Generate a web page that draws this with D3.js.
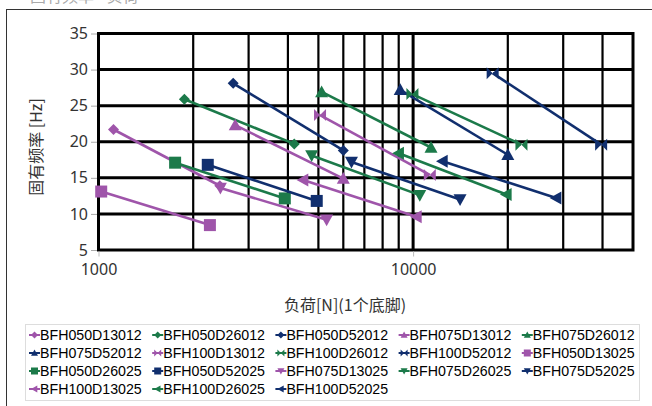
<!DOCTYPE html>
<html>
<head>
<meta charset="utf-8">
<script src="https://cdn.jsdelivr.net/npm/d3@7"></script>
<style>
  body { margin: 0; background: #fff; }
  svg { display: block; }
</style>
</head>
<body>
<div id="chart"></div>
<script>
// series names, in legend order
const seriesNames = [
  "BFH050D13012", "BFH050D26012", "BFH050D52012", "BFH075D13012", "BFH075D26012",
  "BFH075D52012", "BFH100D13012", "BFH100D26012", "BFH100D52012", "BFH050D13025",
  "BFH050D26025", "BFH050D52025", "BFH075D13025", "BFH075D26025", "BFH075D52025",
  "BFH100D13025", "BFH100D26025", "BFH100D52025"
]
// load per foot [N], start and end of each line
const loadValues = [
  [1116, 2430], [1875, 4190], [2680, 6000], [2720, 6000], [5120, 11400],
  [9100, 20000], [5060, 11300], [9950, 22100], [17900, 39600], [1020, 2260],
  [1752, 3910], [2225, 4940], [2440, 5310], [4760, 10500], [6370, 14100],
  [4470, 10250], [9000, 19800], [12400, 28500]
]
// natural frequency [Hz]
const freqValues = [
  [21.7, 13.9], [25.9, 19.7], [28.1, 18.8], [22.3, 14.9], [26.9, 19.2],
  [27.2, 18.2], [23.7, 15.4], [26.6, 19.6], [29.5, 19.6], [13.1, 8.45],
  [17.1, 12.15], [16.8, 11.8], [13.6, 9.2], [18.1, 12.6], [17.2, 12.0],
  [14.7, 9.6], [18.4, 12.7], [17.3, 12.2]
]
const yTicks = [5, 10, 15, 20, 25, 30, 35]
const xTickLabels = [1000, 10000]
const xGrid = [2000, 3000, 4000, 5000, 6000, 7000, 8000, 9000, 10000, 20000, 30000, 40000]

const W = 652, H = 406
const plot = {left: 98.5, right: 633, top: 33.5, bottom: 250}

// colour by D size, marker by BFH type + 12/25
const colorOf = name => ({"D130": "#9f55aa", "D260": "#1c7a4a", "D520": "#112f6e"})[name.slice(6, 10)]
const markerShapes = ["diamond", "triUp", "bowtie", "square", "triDown", "triLeft"]
function markerOf(name) {
  const t = {"050": 0, "075": 1, "100": 2}[name.slice(3, 6)]
  return markerShapes[t + (name.slice(10) === "25" ? 3 : 0)]
}

function markerPath(shape, s) {
  const h = s / 2
  switch (shape) {
    case "diamond": return `M0,${-h}L${h},0L0,${h}L${-h},0Z`
    case "square": return `M${-h},${-h}H${h}V${h}H${-h}Z`
    case "triUp": return `M0,${-h}L${h},${h * 0.8}L${-h},${h * 0.8}Z`
    case "triDown": return `M0,${h}L${h},${-h * 0.8}L${-h},${-h * 0.8}Z`
    case "triLeft": return `M${-h},0L${h * 0.8},${-h}L${h * 0.8},${h}Z`
    case "bowtie": return `M${-h},${-h}L0,0L${-h},${h}ZM${h},${-h}L0,0L${h},${h}Z`
  }
}
const markerSize = {diamond: 11, square: 12, triUp: 13, triDown: 13, triLeft: 13, bowtie: 12}

const svg = d3.select("#chart").append("svg")
  .attr("width", W).attr("height", H)

// outer frame (cropped at right and bottom)
svg.append("rect")
  .attr("x", 6.5).attr("y", 9.5).attr("width", 700).attr("height", 500)
  .attr("fill", "none").attr("stroke", "#333").attr("stroke-width", 1)

// cropped title fragment at the very top
svg.append("text")
  .attr("x", 30).attr("y", 2)
  .style("font", "16px 'Noto Sans CJK SC'")
  .attr("fill", "#aaa")
  .text("固有频率 - 负荷")

const x = d3.scaleLog().domain([1000, 50000]).range([plot.left, plot.right])
const y = d3.scaleLinear().domain([5, 35]).range([plot.bottom, plot.top])

// grid
const grid = svg.append("g")
grid.selectAll("line.v")
  .data(xGrid)
  .join("line")
    .attr("x1", d => x(d)).attr("x2", d => x(d))
    .attr("y1", plot.top).attr("y2", plot.bottom)
    .attr("stroke", "#000")
    .attr("stroke-width", d => d === 10000 ? 3 : 2.2)
grid.selectAll("line.h")
  .data(yTicks.slice(1, -1))
  .join("line")
    .attr("x1", plot.left).attr("x2", plot.right)
    .attr("y1", d => y(d)).attr("y2", d => y(d))
    .attr("stroke", "#000").attr("stroke-width", 3)
grid.append("rect")
  .attr("x", plot.left).attr("y", plot.top)
  .attr("width", plot.right - plot.left).attr("height", plot.bottom - plot.top)
  .attr("fill", "none").attr("stroke", "#000").attr("stroke-width", 3)

// axes (labels only, small grey ticks)
const yAxis = svg.append("g")
  .attr("transform", `translate(${plot.left - 1.5},0)`)
  .call(d3.axisLeft(y).tickValues(yTicks).tickSize(6).tickPadding(3))
yAxis.select(".domain").remove()
yAxis.selectAll("line").attr("stroke", "#aaa")
yAxis.selectAll("text")
  .style("font", "16px 'Noto Sans'").attr("fill", "#333")

const xAxis = svg.append("g")
  .attr("transform", `translate(0,${plot.bottom + 1.5})`)
  .call(d3.axisBottom(x).tickValues(xTickLabels).tickFormat(d3.format("d")).tickSize(5).tickPadding(7))
xAxis.select(".domain").remove()
xAxis.selectAll("line").attr("stroke", "#bbb")
xAxis.selectAll("text")
  .style("font", "16px 'Noto Sans'").attr("fill", "#333")

// axis titles
svg.append("text")
  .attr("x", 345).attr("y", 311)
  .attr("text-anchor", "middle")
  .style("font", "16px 'Noto Sans CJK SC'").attr("fill", "#333")
  .text("负荷[N](1个底脚)")
svg.append("text")
  .attr("transform", "translate(42,147) rotate(-90)")
  .attr("text-anchor", "middle")
  .style("font", "16px 'Noto Sans CJK SC'").attr("fill", "#333")
  .text("固有频率 [Hz]")

// series
const series = seriesNames.map((name, i) => ({
  name: name,
  points: loadValues[i].map((l, j) => ({load: l, freq: freqValues[i][j]}))
}))

const line = d3.line().x(d => x(d.load)).y(d => y(d.freq))

const seriesG = svg.selectAll("g.series")
  .data(series)
  .join("g")
    .attr("class", "series")
seriesG.append("path")
  .attr("d", d => line(d.points))
  .attr("fill", "none")
  .attr("stroke", d => colorOf(d.name))
  .attr("stroke-width", 2.6)
seriesG.selectAll("path.mark")
  .data(d => d.points.map(p => ({...p, name: d.name})))
  .join("path")
    .attr("class", "mark")
    .attr("transform", d => `translate(${x(d.load)},${y(d.freq)})`)
    .attr("d", d => markerPath(markerOf(d.name), markerSize[markerOf(d.name)]))
    .attr("fill", d => colorOf(d.name))

// legend
const legend = svg.append("g")
legend.append("rect")
  .attr("x", 25.5).attr("y", 324.5).attr("width", 614).attr("height", 76)
  .attr("fill", "#fff").attr("stroke", "#ddd").attr("stroke-width", 1)

const colW = 123.2, rowH = 18
const item = legend.selectAll("g.item")
  .data(seriesNames)
  .join("g")
    .attr("class", "item")
    .attr("transform", (d, i) => `translate(${29 + (i % 5) * colW},${335 + Math.floor(i / 5) * rowH})`)
item.append("line")
  .attr("x1", 0).attr("x2", 11)
  .attr("stroke", d => colorOf(d)).attr("stroke-width", 2)
item.append("path")
  .attr("transform", "translate(5.5,0)")
  .attr("d", d => markerPath(markerOf(d), 7))
  .attr("fill", d => colorOf(d))
item.append("text")
  .attr("x", 11).attr("y", 0).attr("dy", "0.36em")
  .style("font", "14.2px 'Liberation Sans', Arial")
  .attr("fill", "#000")
  .text(d => d)
</script>
</body>
</html>
